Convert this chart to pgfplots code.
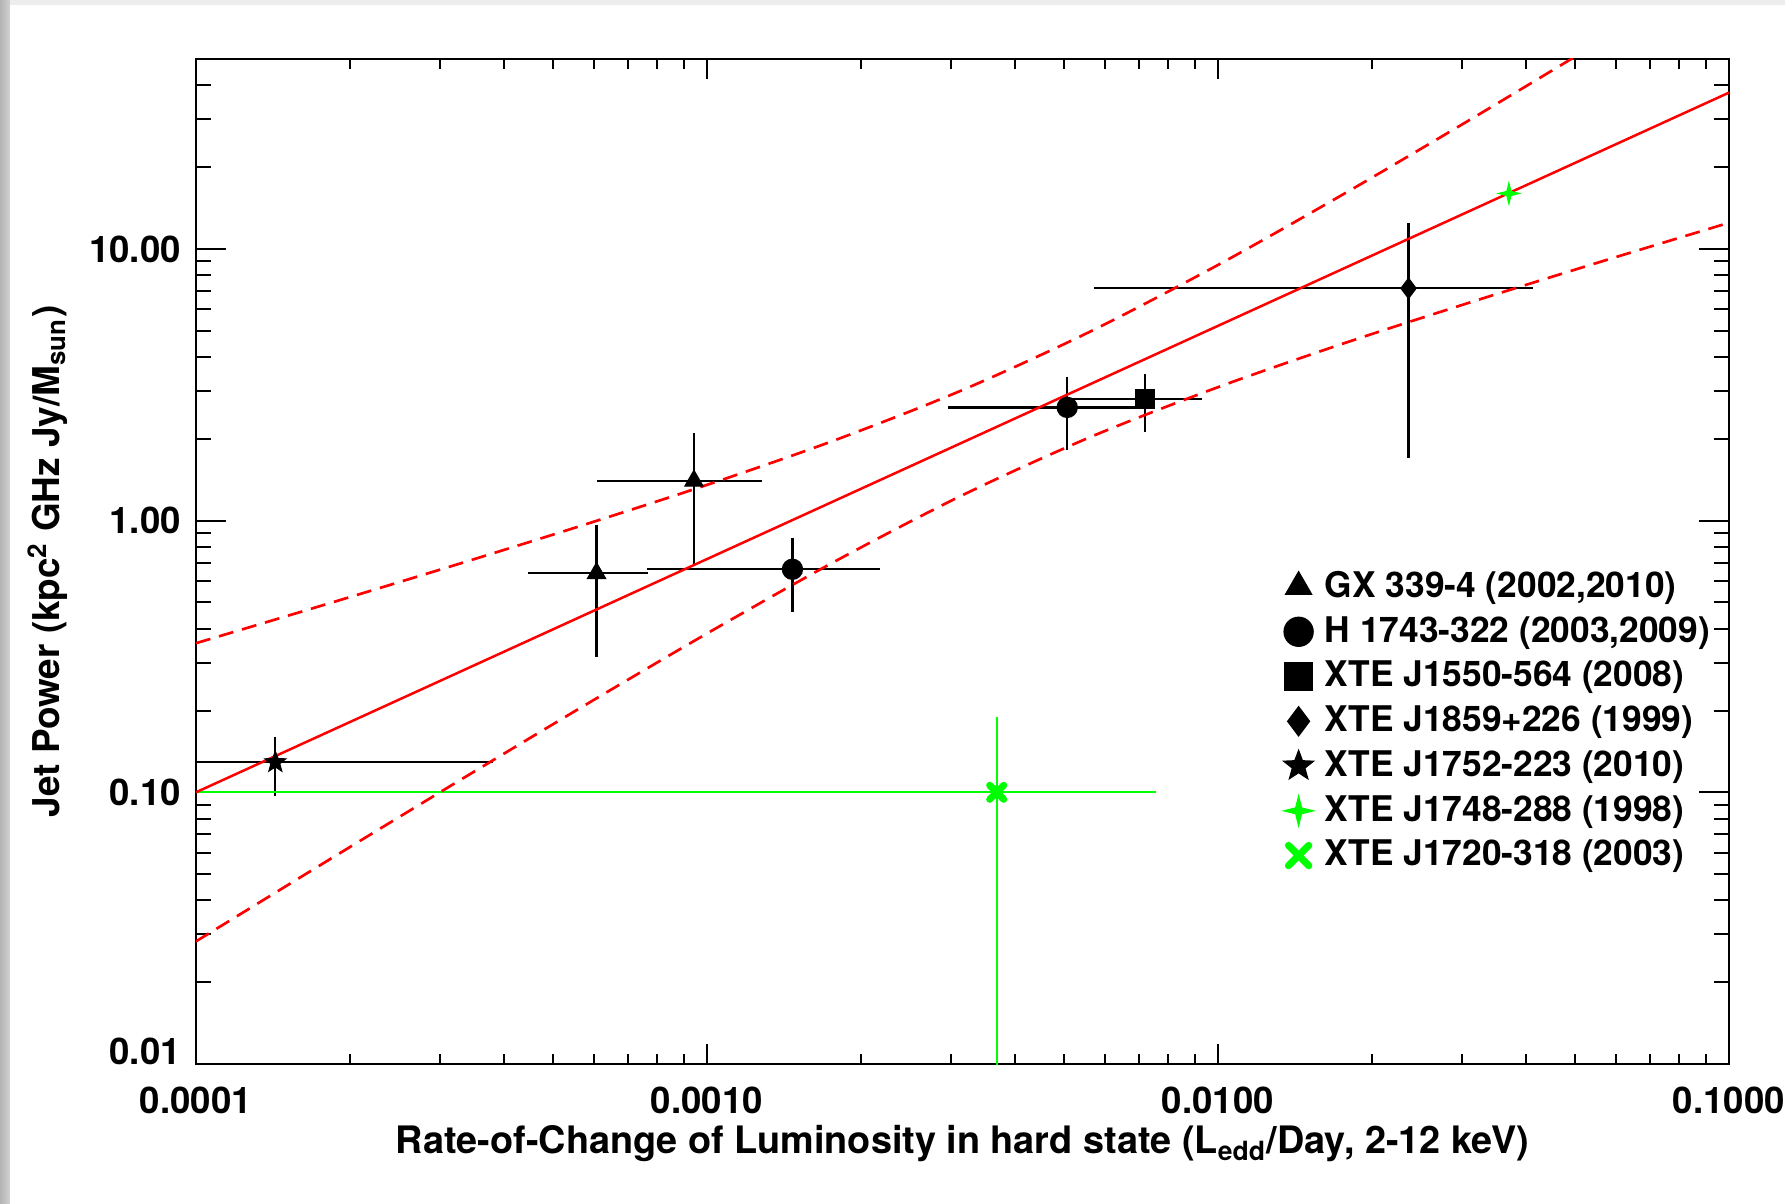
\documentclass[border=0pt]{standalone}
\usepackage{fontspec}
\setmainfont{TeX Gyre Heros}
\usepackage{pgfplots}
\pgfplotsset{compat=1.18}
\definecolor{pgreen}{RGB}{0,255,0}
\definecolor{pred}{RGB}{255,0,0}
\pgfdeclareplotmark{fstar}{%
  \pgfpathmoveto{\pgfpointpolar{90}{\pgfplotmarksize}}%
  \pgfpathlineto{\pgfpointpolar{126}{0.42\pgfplotmarksize}}%
  \pgfpathlineto{\pgfpointpolar{162}{\pgfplotmarksize}}%
  \pgfpathlineto{\pgfpointpolar{198}{0.42\pgfplotmarksize}}%
  \pgfpathlineto{\pgfpointpolar{234}{\pgfplotmarksize}}%
  \pgfpathlineto{\pgfpointpolar{270}{0.42\pgfplotmarksize}}%
  \pgfpathlineto{\pgfpointpolar{306}{\pgfplotmarksize}}%
  \pgfpathlineto{\pgfpointpolar{342}{0.42\pgfplotmarksize}}%
  \pgfpathlineto{\pgfpointpolar{18}{\pgfplotmarksize}}%
  \pgfpathlineto{\pgfpointpolar{54}{0.42\pgfplotmarksize}}%
  \pgfpathclose\pgfusepathqfillstroke}
\pgfdeclareplotmark{fourstar}{%
  \pgfpathmoveto{\pgfpointpolar{90}{\pgfplotmarksize}}%
  \pgfpathlineto{\pgfpointpolar{135}{0.28\pgfplotmarksize}}%
  \pgfpathlineto{\pgfpointpolar{180}{\pgfplotmarksize}}%
  \pgfpathlineto{\pgfpointpolar{225}{0.28\pgfplotmarksize}}%
  \pgfpathlineto{\pgfpointpolar{270}{\pgfplotmarksize}}%
  \pgfpathlineto{\pgfpointpolar{315}{0.28\pgfplotmarksize}}%
  \pgfpathlineto{\pgfpointpolar{0}{\pgfplotmarksize}}%
  \pgfpathlineto{\pgfpointpolar{45}{0.28\pgfplotmarksize}}%
  \pgfpathclose\pgfusepathqfillstroke}
\pgfdeclareplotmark{cloverx}{%
  \pgfscope
  \pgfsetroundcap
  \pgfsetlinewidth{0.62\pgfplotmarksize}%
  \pgfpathmoveto{\pgfqpoint{-0.62\pgfplotmarksize}{-0.62\pgfplotmarksize}}%
  \pgfpathlineto{\pgfqpoint{0.62\pgfplotmarksize}{0.62\pgfplotmarksize}}%
  \pgfpathmoveto{\pgfqpoint{-0.62\pgfplotmarksize}{0.62\pgfplotmarksize}}%
  \pgfpathlineto{\pgfqpoint{0.62\pgfplotmarksize}{-0.62\pgfplotmarksize}}%
  \pgfusepathqstroke
  \endpgfscope}
\begin{document}
\begin{tikzpicture}
\path[use as bounding box] (-58.8pt,-42pt) rectangle (476.7pt,319.2pt);
\fill[white] (-58.8pt,-42pt) rectangle (476.7pt,319.2pt);
\shade[left color=gray!60, right color=gray!35] (-58.8pt,-42pt) rectangle (-55.8pt,319.2pt);
\fill[gray!14] (-55.8pt,317.6pt) rectangle (476.7pt,319.2pt);
\begin{axis}[
  at={(0,0)}, anchor=south west,
  scale only axis, width=459.9pt, height=301.5pt,
  xmode=log, ymode=log,
  xmin=1e-4, xmax=0.1, ymin=0.01, ymax=50,
  xtick={1e-4,1e-3,1e-2,1e-1},
  xticklabels={\textbf{0.0001},\textbf{0.0010},\textbf{0.0100},\textbf{0.1000}},
  ytick={0.01,0.1,1,10},
  yticklabels={\raisebox{3.7pt}[7.9pt][0pt]{\textbf{0.01}},\textbf{0.10},\textbf{1.00},\textbf{10.00}},
  minor xtick={2e-4,3e-4,4e-4,5e-4,6e-4,7e-4,8e-4,9e-4,2e-3,3e-3,4e-3,5e-3,6e-3,7e-3,8e-3,9e-3,0.02,0.03,0.04,0.05,0.06,0.07,0.08,0.09},
  minor ytick={0.02,0.03,0.04,0.05,0.06,0.07,0.08,0.09,0.2,0.3,0.4,0.5,0.6,0.7,0.8,0.9,2,3,4,5,6,7,8,9,20,30,40},
  tick align=inside,
  axis line style={line width=0.6pt},
  tick style={black, line width=0.6pt},
  xtick style={/pgfplots/major tick length=6pt,/pgfplots/minor tick length=3pt},
  ytick style={/pgfplots/major tick length=9pt,/pgfplots/minor tick length=4.5pt},
  ticklabel style={font=\fontsize{11}{13}\selectfont},
  xticklabel style={yshift=-3.3pt},
  yticklabel style={xshift=-1pt},
  xlabel={\textbf{Rate-of-Change of Luminosity in hard state (L\textsubscript{edd}/Day, 2-12 keV)}},
  ylabel={\textbf{Jet Power (kpc\textsuperscript{2} GHz Jy/M\textsubscript{sun})}},
  xlabel style={font=\fontsize{11.35}{13}\selectfont, at={([yshift=-24pt]axis description cs:0.5,0)}, anchor=center},
  ylabel style={font=\fontsize{11.08}{13}\selectfont, at={([xshift=-44.4pt]axis description cs:0,0.5)}, anchor=center},
  error bars/error bar style={line width=0.7pt},
  error bars/error mark=none,
  legend style={draw=none, fill=none, at={(rel axis cs:0.701,0.5026)}, anchor=north west,
    font=\fontsize{10.6}{12.7}\selectfont\bfseries, row sep=1.2pt,
    nodes={inner sep=1.5pt}},
  legend cell align=left,
  legend image code/.code={\draw[#1, every mark/.append style={scale=1.45}] plot coordinates {(0.2cm,0cm)};
    \path (0.2cm,0cm) ++(-5pt,0pt) (0.2cm,0cm) ++(6.2pt,0pt);},
]
% GX 339-4
\addplot[only marks, black, mark=triangle*, mark size=3.1pt,
  error bars/.cd, x dir=both, x explicit, y dir=both, y explicit,
  error bar style={black}]
  coordinates {
  (6.08e-4,0.640) += (1.59e-4,0.324) -= (1.62e-4,0.326)
  (9.43e-4,1.40)  += (3.37e-4,0.707) -= (3.35e-4,0.719)
  };
\addlegendentry{GX 339-4 (2002,2010)}
% H 1743-322
\addplot[only marks, black, mark=*, mark size=3pt,
  error bars/.cd, x dir=both, x explicit, y dir=both, y explicit,
  error bar style={black}]
  coordinates {
  (1.47e-3,0.662) += (7.10e-4,0.199) -= (7.08e-4,0.201)
  (5.07e-3,2.61)  += (1.89e-3,0.78)  -= (2.11e-3,0.79)
  };
\addlegendentry{H 1743-322 (2003,2009)}
% XTE J1550-564
\addplot[only marks, black, mark=square*, mark size=2.85pt,
  error bars/.cd, x dir=both, x explicit, y dir=both, y explicit,
  error bar style={black}]
  coordinates {(7.19e-3,2.80) += (2.10e-3,0.65) -= (2.08e-3,0.68)};
\addlegendentry{XTE J1550-564 (2008)}
% XTE J1859+226
\addplot[only marks, black, mark=diamond*, mark size=3pt,
  error bars/.cd, x dir=both, x explicit, y dir=both, y explicit,
  error bar style={black}]
  coordinates {(0.0236,7.16) += (0.0178,5.33) -= (0.01787,5.46)};
\addlegendentry{XTE J1859+226 (1999)}
% XTE J1752-223
\addplot[only marks, black, mark=fstar, mark size=3.2pt,
  error bars/.cd, x dir=both, x explicit, y dir=both, y explicit,
  error bar style={black}]
  coordinates {(1.43e-4,0.129) += (2.39e-4,0.031) -= (6.3e-5,0.032)};
\addlegendentry{XTE J1752-223 (2010)}
% XTE J1748-288
\addplot[only marks, color=pgreen, mark=fourstar, mark size=3pt]
  coordinates {(0.0371,16.0)};
\addlegendentry{XTE J1748-288 (1998)}
% XTE J1720-318
\addplot[only marks, color=pgreen, mark=cloverx, mark size=3.4pt,
  error bars/.cd, x dir=both, x explicit, y dir=both, y explicit,
  error bar style={line width=0.6pt, pgreen}]
  coordinates {(3.69e-3,0.1) += (3.87e-3,0.09) -= (3.64e-3,0.095)};
\addlegendentry{XTE J1720-318 (2003)}
% fit and confidence band
\addplot[pred, line width=0.75pt, forget plot] coordinates {(1e-4,0.1) (0.1,37.6)};
\addplot[pred, line width=0.8pt, dash pattern=on 4.5pt off 2.7pt, smooth, forget plot] coordinates {
 (1e-4,0.3538) (1.778e-4,0.4891) (3.162e-4,0.6799) (5.623e-4,0.9524) (1e-3,1.3534)
 (1.778e-3,1.9752) (3.162e-3,3.0234) (5.623e-3,4.963) (0.01,8.728) (0.01778,16.08)
 (0.03162,30.41) (0.05623,58.3) (0.1,112.7)};
\addplot[pred, line width=0.8pt, dash pattern=on 4.5pt off 2.7pt, smooth, forget plot] coordinates {
 (1e-4,0.02827) (1.778e-4,0.05490) (3.162e-4,0.1061) (5.623e-4,0.2033) (1e-3,0.3842)
 (1.778e-3,0.7068) (3.162e-3,1.2403) (5.623e-3,2.029) (0.01,3.098) (0.01778,4.516)
 (0.03162,6.412) (0.05623,8.981) (0.1,12.48)};
\end{axis}
\end{tikzpicture}
\end{document}
